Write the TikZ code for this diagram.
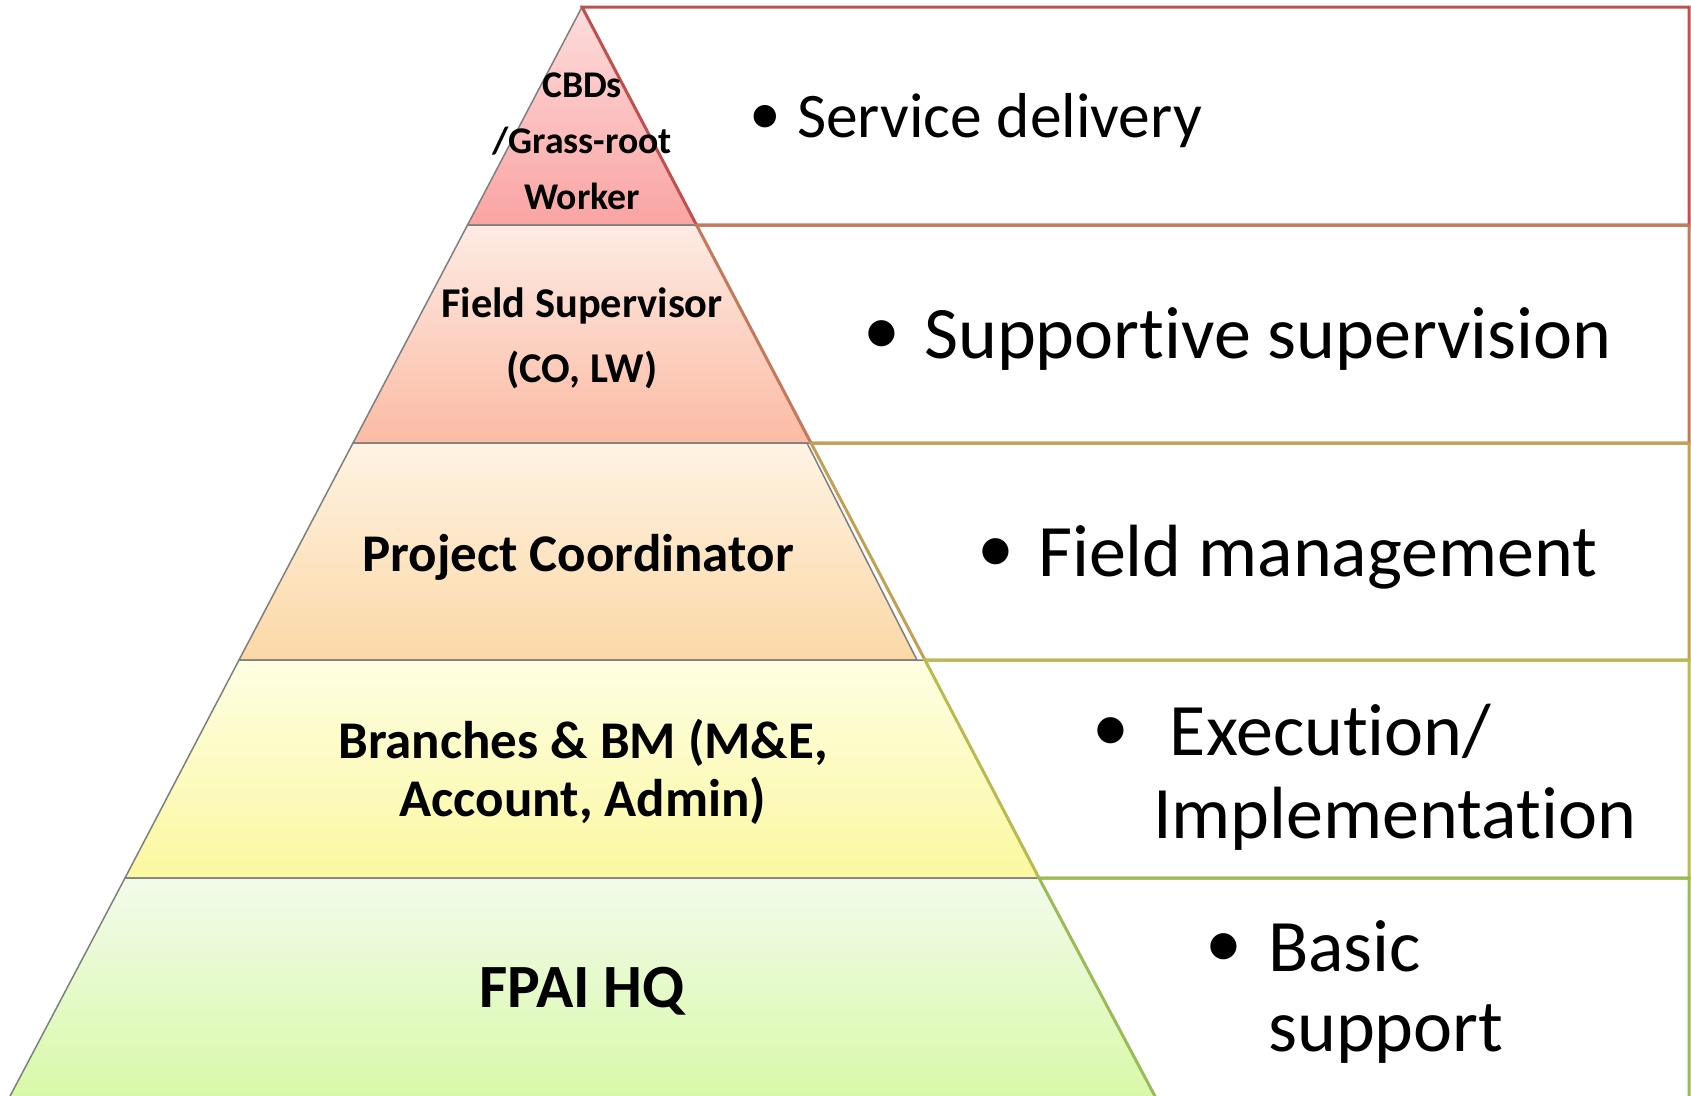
\documentclass[tikz,border=0pt]{standalone}
\usepackage{fontspec}
\setmainfont{Carlito}[Ligatures=NoCommon]

% tier shading, top and bottom
\definecolor{redtop}{HTML}{FDDCDC}
\definecolor{redbot}{HTML}{F9A4A2}
\definecolor{salmontop}{HTML}{FDEBE3}
\definecolor{salmonbot}{HTML}{FBBBA4}
\definecolor{peachtop}{HTML}{FEF3E3}
\definecolor{peachbot}{HTML}{FCD8A6}
\definecolor{yellowtop}{HTML}{FEFEE3}
\definecolor{yellowbot}{HTML}{FBF8A0}
\definecolor{greentop}{HTML}{F2FBEA}
\definecolor{greenbot}{HTML}{D8F9A8}
% outlines
\definecolor{tierline}{HTML}{7F7F7F}
\definecolor{redline}{HTML}{C0504D}
\definecolor{brownline}{HTML}{C27A5A}
\definecolor{goldline}{HTML}{C4A055}
\definecolor{oliveline}{HTML}{B8BC50}
\definecolor{greenline}{HTML}{9BBB59}

\begin{document}
\begin{tikzpicture}[x=1pt,y=-1pt,
    tier/.style={draw=tierline, line width=1.5pt},
    box/.style={line width=3pt, line join=miter},
    role/.style={align=center, inner sep=0pt, anchor=base},
    duty/.style={align=left, inner sep=0pt, anchor=base west, font=\fontsize{74}{81}\selectfont},
    dot/.style={inner sep=0pt, anchor=center, font=\fontsize{74}{81}\selectfont}]
  \useasboundingbox (0,0) rectangle (1691,1095);

  % pyramid, top to bottom
  \path[tier, top color=redtop, bottom color=redbot]
    (582,7) -- (696.5,225) -- (467.5,225) -- cycle;
  \path[tier, top color=salmontop, bottom color=salmonbot]
    (467.5,225) -- (696.5,225) -- (811,443) -- (353,443) -- cycle;
  \path[tier, top color=peachtop, bottom color=peachbot]
    (353,443) -- (807,443) -- (917,660) -- (239,660) -- cycle;
  \path[tier, top color=yellowtop, bottom color=yellowbot]
    (239,660) -- (925,660) -- (1039,878) -- (125,878) -- cycle;
  \path[tier, top color=greentop, bottom color=greenbot]
    (125,878) -- (1039,878) -- (1157,1100) -- (8,1100) -- cycle;

  % boxes on the right
  \draw[box, redline] (582,7) -- (1689,7) -- (1689,225) -- (696.5,225) -- cycle;
  \draw[box, brownline] (696.5,225) -- (1689,225) -- (1689,443) -- (811,443) -- cycle;
  \draw[box, goldline] (811,443) -- (1689,443) -- (1689,660) -- (925,660) -- cycle;
  \draw[box, oliveline] (925,660) -- (1689,660) -- (1689,878) -- (1039,878) -- cycle;
  \draw[box, greenline] (1039,878) -- (1689,878) -- (1689,1100) -- (1157,1100) -- cycle;

  % roles (base = last line)
  \node[role, font=\bfseries\fontsize{37.7}{56}\selectfont] (cbd) at (582,209)
    {CBDs\\/Grass-root\\Worker};
  \node[role, font=\bfseries\fontsize{42.4}{65}\selectfont] (fs) at (582,382)
    {Field Supervisor\\(CO, LW)};
  \node[role, font=\bfseries\fontsize{53}{58}\selectfont] (pc) at (578,571)
    {Project Coordinator};
  \node[role, font=\bfseries\fontsize{53}{58}\selectfont] (bm) at (583,816)
    {Branches \& BM (M\&E,\\Account, Admin)};
  \node[role, font=\bfseries\fontsize{61.5}{70}\selectfont] (hq) at (582,1007)
    {FPAI HQ};

  % duties
  \node[dot, font=\fontsize{63.5}{70}\selectfont] (b1) at (765,120) {\textbullet};
  \node[duty, font=\fontsize{63.5}{70}\selectfont] (d1) at (797,137) {Service delivery};

  \node[dot] (b2) at (882,338) {\textbullet};
  \node[duty] (d2) at (924,358) {Supportive supervision};

  \node[dot] (b3) at (996,556) {\textbullet};
  \node[duty] (d3) at (1038,576) {Field management};

  \node[dot] (b4) at (1111,735) {\textbullet};
  \node[duty, font=\fontsize{74}{83}\selectfont] (d4) at (1153,838)
    {\ Execution/\\Implementation};

  \node[dot] (b5) at (1224,951) {\textbullet};
  \node[duty, font=\fontsize{74}{80}\selectfont] (d5) at (1268,1051)
    {Basic\\support};
\end{tikzpicture}
\end{document}
